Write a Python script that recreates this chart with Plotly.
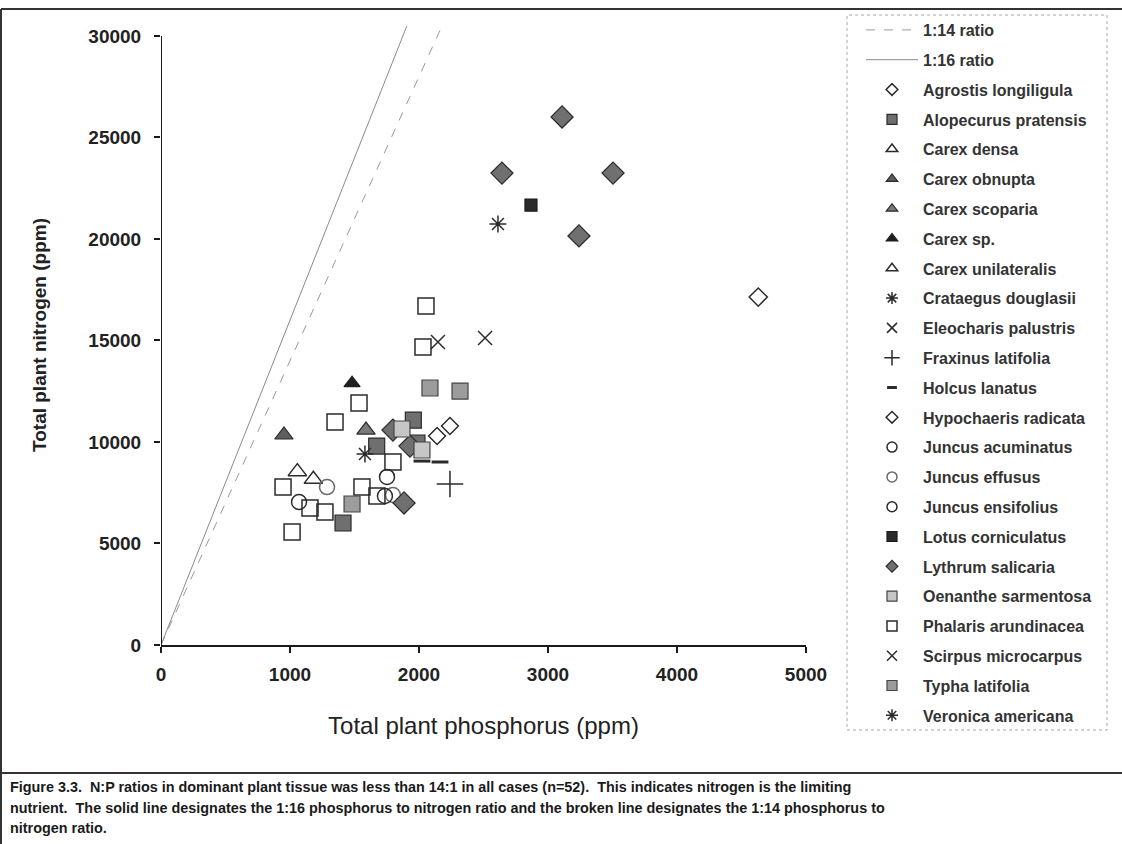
import plotly.graph_objects as go

# Tissue nutrient concentrations (ppm): phosphorus (P) and nitrogen (N) per species
agrostis_p = [4630]
agrostis_n = [17140]
alopecurus_p = [1956, 1672, 1411, 1984]
alopecurus_n = [11080, 9800, 6010, 9950]
carex_densa_p = [1057]
carex_densa_n = [8540]
carex_obnupta_p = [953]
carex_obnupta_n = [10345]
carex_scoparia_p = [1589]
carex_scoparia_n = [10590]
carex_sp_p = [1481]
carex_sp_n = [12900]
carex_unilat_p = [1181]
carex_unilat_n = [8160]
crataegus_p = [2612]
crataegus_n = [20740]
eleocharis_p = [2147]
eleocharis_n = [14930]
fraxinus_p = [2240]
fraxinus_n = [7930]
holcus_p = [2023, 2163]
holcus_n = [9060, 9015]
hypochaeris_p = [2140, 2240]
hypochaeris_n = [10295, 10790]
juncus_acum_p = [1752]
juncus_acum_n = [8280]
juncus_eff_p = [1287, 1798]
juncus_eff_n = [7780, 7390]
juncus_ens_p = [1070, 1736]
juncus_ens_n = [7045, 7340]
lotus_p = [2868]
lotus_n = [21670]
lythrum_p = [3109, 2643, 3504, 3240, 1884, 1798, 1930]
lythrum_n = [26010, 23250, 23250, 20150, 6995, 10590, 9800]
oenanthe_p = [1868, 2023]
oenanthe_n = [10640, 9606]
phalaris_p = [2054, 2031, 1535, 1349, 1798, 946, 1558, 1674, 1155, 1271, 1016]
phalaris_n = [16700, 14680, 11920, 10985, 9015, 7783, 7783, 7340, 6750, 6552, 5566]
scirpus_p = [2512]
scirpus_n = [15120]
typha_p = [2085, 2318, 1481]
typha_n = [12660, 12510, 6946]
veronica_p = [1581]
veronica_n = [9410]

# Reference N:P ratio lines
ratio_values = [14, 16]
ratio_names = ["1:14 ratio", "1:16 ratio"]
ratio_top_n = 30500

x_ticks = [0, 1000, 2000, 3000, 4000, 5000]
y_ticks = [0, 5000, 10000, 15000, 20000, 25000, 30000]

caption_lines = [
    "Figure 3.3.  N:P ratios in dominant plant tissue was less than 14:1 in all cases (n=52).  "
    "This indicates nitrogen is the limiting",
    "nutrient.  The solid line designates the 1:16 phosphorus to nitrogen ratio and the broken line "
    "designates the 1:14 phosphorus to",
    "nitrogen ratio.",
]

W, H = 1122, 844


def px(x):
    return x / W


def py(y):
    return 1 - y / H


INK = "#2b2b2b"
FONT = "Liberation Sans, Arial, sans-serif"

# species name, P values, N values, symbol, plot size, legend size, fill, outline colour
species = [
    ("Agrostis longiligula", agrostis_p, agrostis_n, "diamond-open", 14, 9, None, INK),
    ("Alopecurus pratensis", alopecurus_p, alopecurus_n, "square", 16, 10, "#6f6f6f", INK),
    ("Carex densa", carex_densa_p, carex_densa_n, "triangle-up-open", 16, 10, None, INK),
    ("Carex obnupta", carex_obnupta_p, carex_obnupta_n, "triangle-up", 16, 10, "#5e5e5e", INK),
    ("Carex scoparia", carex_scoparia_p, carex_scoparia_n, "triangle-up", 16, 10, "#7a7a7a", INK),
    ("Carex sp.", carex_sp_p, carex_sp_n, "triangle-up", 14, 10, "#1f1f1f", "#1f1f1f"),
    ("Carex unilateralis", carex_unilat_p, carex_unilat_n, "triangle-up-open", 16, 10, None, INK),
    ("Crataegus douglasii", crataegus_p, crataegus_n, "asterisk-open", 14, 10, None, INK),
    ("Eleocharis palustris", eleocharis_p, eleocharis_n, "x-thin-open", 14, 10, None, INK),
    ("Fraxinus latifolia", fraxinus_p, fraxinus_n, "cross-thin-open", 19, 11, None, INK),
    ("Holcus lanatus", holcus_p, holcus_n, "line-ew-open", 12, 7, None, INK),
    ("Hypochaeris radicata", hypochaeris_p, hypochaeris_n, "diamond-open", 13, 9, None, INK),
    ("Juncus acuminatus", juncus_acum_p, juncus_acum_n, "circle-open", 15, 10, None, INK),
    ("Juncus effusus", juncus_eff_p, juncus_eff_n, "circle-open", 15, 10, None, "#6a6a6a"),
    ("Juncus ensifolius", juncus_ens_p, juncus_ens_n, "circle-open", 15, 10, None, INK),
    ("Lotus corniculatus", lotus_p, lotus_n, "square", 12, 10, "#2a2a2a", "#1a1a1a"),
    ("Lythrum salicaria", lythrum_p, lythrum_n, "diamond", 17, 9, "#707070", INK),
    ("Oenanthe sarmentosa", oenanthe_p, oenanthe_n, "square", 16, 10, "#c6c6c6", "#444444"),
    ("Phalaris arundinacea", phalaris_p, phalaris_n, "square-open", 16, 10, None, INK),
    ("Scirpus microcarpus", scirpus_p, scirpus_n, "x-thin-open", 14, 10, None, INK),
    ("Typha latifolia", typha_p, typha_n, "square", 16, 10, "#9c9c9c", "#444444"),
    ("Veronica americana", veronica_p, veronica_n, "asterisk-open", 14, 10, None, INK),
]


def marker_style(symbol, size, fill, edge):
    line_w = 1.5 if fill is None else 1.2
    if symbol == "line-ew-open":
        line_w = 3
    return dict(symbol=symbol, size=size, color=edge if fill is None else fill,
                line=dict(color=edge, width=line_w))


fig = go.Figure()

for name, ratio, dash, colour in zip(ratio_names, ratio_values, ["dash", "solid"], ["#9a9a9a", "#8a8a8a"]):
    fig.add_trace(go.Scatter(
        x=[0, ratio_top_n / ratio], y=[0, ratio_top_n],
        mode="lines", name=name, legendgroup=name,
        line=dict(color=colour, width=1, dash=dash),
        hoverinfo="skip",
    ))

for name, p_vals, n_vals, symbol, size, leg_size, fill, edge in species:
    # plotted points
    fig.add_trace(go.Scatter(
        x=p_vals, y=n_vals, mode="markers", name=name, legendgroup=name,
        marker=marker_style(symbol, size, fill, edge), cliponaxis=False, showlegend=False,
    ))
    # legend key with smaller symbol
    fig.add_trace(go.Scatter(
        x=[None], y=[None], mode="markers", name=name, legendgroup=name,
        marker=marker_style(symbol, leg_size, fill, edge), hoverinfo="skip",
    ))

tick_font = dict(family=FONT, size=19, color="#222222", weight="bold")

# y axis: plot area extends slightly above 30000 so the ratio lines run past the top tick
y_top = 30540
y0_px, y30k_px = 645, 36
y_dom_bottom = py(y0_px)
y_dom_top = py(y0_px - (y0_px - y30k_px) * y_top / 30000)

fig.update_layout(
    width=W, height=H,
    margin=dict(l=0, r=0, t=0, b=0),
    paper_bgcolor="white", plot_bgcolor="white",
    showlegend=True,
    xaxis=dict(
        domain=[px(161), px(806)], range=[0, 5000],
        tickvals=x_ticks, ticktext=[str(v) for v in x_ticks],
        showgrid=False, zeroline=False,
        showline=True, linecolor="#1a1a1a", linewidth=2,
        ticks="outside", ticklen=6, tickwidth=1.5, tickcolor="#1a1a1a",
        tickfont=tick_font, ticklabelstandoff=5,
        title=dict(text="Total plant phosphorus (ppm)", standoff=33,
                   font=dict(family=FONT, size=24, color="#222222")),
        automargin=False,
    ),
    yaxis=dict(
        domain=[y_dom_bottom, y_dom_top], range=[0, y_top],
        tickvals=y_ticks, ticktext=[str(v) for v in y_ticks],
        showgrid=False, zeroline=False, showline=False,
        ticks="outside", ticklen=6, tickwidth=1.5, tickcolor="#1a1a1a",
        tickfont=tick_font, ticklabelstandoff=9,
        title=dict(text="Total plant nitrogen (ppm)", standoff=36,
                   font=dict(family=FONT, size=19, color="#222222", weight="bold")),
        automargin=False,
    ),
    legend=dict(
        x=px(861), y=py(13), xanchor="left", yanchor="top",
        bgcolor="rgba(0,0,0,0)", borderwidth=0,
        font=dict(family=FONT, size=16, color="#333333", weight="bold"),
        itemwidth=52, itemsizing="trace", tracegroupgap=6,
    ),
)

# y axis line from 0 to 30000 drawn in data coordinates
fig.add_shape(type="line", xref="x", yref="y", x0=0, x1=0, y0=0, y1=30000,
              line=dict(color="#1a1a1a", width=2))

# legend frame (dotted)
fig.add_shape(type="rect", xref="paper", yref="paper",
              x0=px(847), x1=px(1107), y0=py(730), y1=py(15),
              line=dict(color="#a8a8a8", width=1, dash="dot"))

# chart border and caption separator
fig.add_shape(type="line", xref="paper", yref="paper", x0=px(1), x1=px(1), y0=py(9), y1=0,
              line=dict(color="#333333", width=2))
fig.add_shape(type="line", xref="paper", yref="paper", x0=px(1), x1=1, y0=py(9), y1=py(9),
              line=dict(color="#333333", width=2))
fig.add_shape(type="line", xref="paper", yref="paper", x0=px(1), x1=1, y0=py(773), y1=py(773),
              line=dict(color="#333333", width=2))

for line_text, y_center in zip(caption_lines, [787, 807.5, 828]):
    fig.add_annotation(
        xref="paper", yref="paper", x=px(8), y=py(y_center), xanchor="left", yanchor="middle",
        text=line_text, showarrow=False, align="left",
        font=dict(family=FONT, size=14.4, color="#1a1a1a", weight="bold"),
    )

fig.write_html("out.html")
